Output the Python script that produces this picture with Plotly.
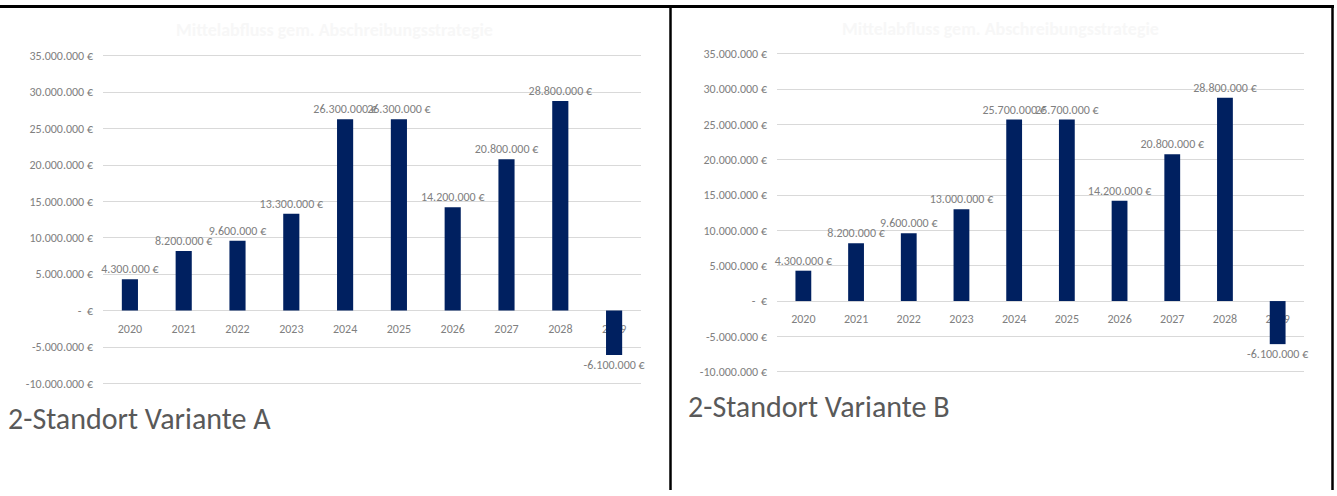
import plotly.graph_objects as go

years = ["2020", "2021", "2022", "2023", "2024", "2025", "2026", "2027", "2028", "2029"]
values_a = [4300000, 8200000, 9600000, 13300000, 26300000, 26300000, 14200000, 20800000, 28800000, -6100000]
values_b = [4300000, 8200000, 9600000, 13000000, 25700000, 25700000, 14200000, 20800000, 28800000, -6100000]
labels_a = ["4.300.000 €", "8.200.000 €", "9.600.000 €", "13.300.000 €", "26.300.000 €", "26.300.000 €",
            "14.200.000 €", "20.800.000 €", "28.800.000 €", "-6.100.000 €"]
labels_b = ["4.300.000 €", "8.200.000 €", "9.600.000 €", "13.000.000 €", "25.700.000 €", "25.700.000 €",
            "14.200.000 €", "20.800.000 €", "28.800.000 €", "-6.100.000 €"]
tick_vals = [-10000000, -5000000, 0, 5000000, 10000000, 15000000, 20000000, 25000000, 30000000, 35000000]
tick_text = ["-10.000.000 €", "-5.000.000 €", "-  €", "5.000.000 €", "10.000.000 €", "15.000.000 €",
             "20.000.000 €", "25.000.000 €", "30.000.000 €", "35.000.000 €"]
chart_title = "Mittelabfluss gem. Abschreibungsstrategie"
caption_a = "2-Standort Variante A"
caption_b = "2-Standort Variante B"

W, H = 1337, 496
FONT = "Calibri, Carlito, Lato, sans-serif"
BAR = "#002060"
GREY = "#808080"
GRID = "#d9d9d9"
PAD = 0.2e6
YR = [-10e6 - PAD, 35e6 + PAD]

def px_x(p):
    return p / W

def px_y(p):
    return (H - p) / H

def y_domain(px_m10, px_35):
    per = (px_m10 - px_35) / 45e6
    return [px_y(px_m10 + PAD * per), px_y(px_35 - PAD * per)]

dom_a_x = [px_x(103), px_x(641)]
dom_a_y = y_domain(387, 52)
dom_b_x = [px_x(777), px_x(1304)]
dom_b_y = y_domain(375, 50)

def zero_pos(dom):
    return dom[0] + (0 - YR[0]) / (YR[1] - YR[0]) * (dom[1] - dom[0])

fig = go.Figure()
for vals, labs, xa, ya in [(values_a, labels_a, "x", "y"), (values_b, labels_b, "x2", "y2")]:
    fig.add_trace(go.Bar(x=years, y=vals, text=labs, textposition="outside",
                         constraintext="none", cliponaxis=False,
                         textfont=dict(family=FONT, size=12, color=GREY),
                         marker=dict(color=BAR, line=dict(width=0)), width=0.3,
                         xaxis=xa, yaxis=ya, hoverinfo="skip"))

xcommon = dict(type="category", showgrid=False, showline=False, zeroline=False,
               ticks="", tickfont=dict(family=FONT, size=12, color=GREY),
               layer="below traces", ticklabelstandoff=9, fixedrange=True)
ycommon = dict(range=YR, tickvals=tick_vals, ticktext=tick_text, showgrid=True,
               gridcolor=GRID, gridwidth=1, zeroline=True, zerolinecolor=GRID, zerolinewidth=1,
               showline=False, ticks="", tickfont=dict(family=FONT, size=12, color=GREY),
               ticklabelstandoff=9, fixedrange=True)

fig.update_layout(
    width=W, height=H, margin=dict(l=0, r=0, t=0, b=0),
    paper_bgcolor="white", plot_bgcolor="white", showlegend=False,
    xaxis=dict(domain=dom_a_x, anchor="free", position=zero_pos(dom_a_y), **xcommon),
    yaxis=dict(domain=dom_a_y, anchor="x", **ycommon),
    xaxis2=dict(domain=dom_b_x, anchor="free", position=zero_pos(dom_b_y), **xcommon),
    yaxis2=dict(domain=dom_b_y, anchor="x2", **ycommon),
)

annotations = [
    dict(text="<b>" + chart_title + "</b>", x=px_x(334), y=px_y(26), xref="paper", yref="paper",
         showarrow=False, xanchor="center", yanchor="middle",
         font=dict(family=FONT, size=18, color="#f7f7f7")),
    dict(text="<b>" + chart_title + "</b>", x=px_x(1000), y=px_y(25), xref="paper", yref="paper",
         showarrow=False, xanchor="center", yanchor="middle",
         font=dict(family=FONT, size=18, color="#f7f7f7")),
    dict(text=caption_a, x=px_x(6), y=px_y(423), xref="paper", yref="paper", showarrow=False,
         xanchor="left", yanchor="middle", font=dict(family=FONT, size=30, color="#595959")),
    dict(text=caption_b, x=px_x(686), y=px_y(411), xref="paper", yref="paper", showarrow=False,
         xanchor="left", yanchor="middle", font=dict(family=FONT, size=30, color="#595959")),
]
fig.update_layout(annotations=annotations)

shapes = [
    dict(type="line", xref="paper", yref="paper", x0=0, x1=px_x(1334), y0=px_y(1.5), y1=px_y(1.5),
         line=dict(color="black", width=3)),
    dict(type="line", xref="paper", yref="paper", x0=px_x(670.5), x1=px_x(670.5), y0=0, y1=1,
         line=dict(color="black", width=2.5)),
    dict(type="line", xref="paper", yref="paper", x0=px_x(1332.5), x1=px_x(1332.5), y0=0, y1=1,
         line=dict(color="black", width=2.5)),
]
fig.update_layout(shapes=shapes)

fig.write_html("out.html", config={"displayModeBar": False})
